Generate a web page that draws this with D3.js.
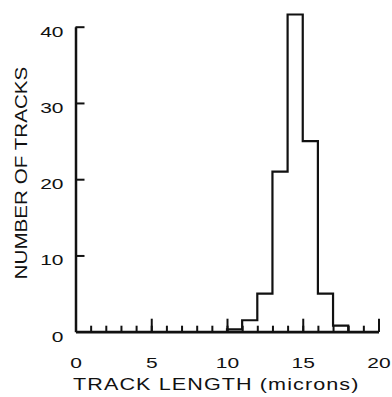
<!DOCTYPE html>
<html>
<head>
<meta charset="utf-8">
<script src="https://cdn.jsdelivr.net/npm/d3@7"></script>
<style>
  body { margin: 0; background: #fff; }
  text { font-family: "Liberation Sans", Arial, sans-serif; fill: #111; }
</style>
</head>
<body>
<div id="chart"></div>
<script>
// histogram bins (microns) and counts
const binStarts = [10, 11, 12, 13, 14, 15, 16, 17];
const binCounts = [0.3, 1.5, 5, 21, 41.6, 25, 5, 0.8];
const yTicks = [0, 10, 20, 30, 40];
const xMajorTicks = [0, 5, 10, 15, 20];
const xMinorTicks = d3.range(0, 21);

const WIDTH = 392;
const HEIGHT = 397;
const INK = '#111';
const STRETCH = 1.4; // the figure's lettering is wide

const svg = d3.select('#chart').append('svg')
    .attr('width', WIDTH)
    .attr('height', HEIGHT);

const x = d3.scaleLinear().domain([0, 20]).range([75.5, 378.5]);
const y = d3.scaleLinear().domain([0, 40]).range([331.7, 26.7]);

// y axis, ticks pointing inward
const yAxis = svg.append('g')
    .attr('transform', `translate(${x(0)},0)`)
    .call(d3.axisLeft(y).tickValues(yTicks).tickSize(-9).tickSizeOuter(0).tickPadding(12));
yAxis.select('.domain').attr('stroke', INK).attr('stroke-width', 2.5);
yAxis.selectAll('.tick line').attr('stroke', INK).attr('stroke-width', 2)
    .filter(d => d === 0).remove();
yAxis.selectAll('.tick text')
    .attr('font-size', 15)
    .attr('x', -12 / STRETCH)
    .attr('dy', '0.62em')
    .attr('transform', `scale(${STRETCH},1)`);

// x axis: minor ticks every micron, longer ticks every 5
const xMinor = svg.append('g')
    .attr('transform', `translate(0,${y(0)})`)
    .call(d3.axisBottom(x).tickValues(xMinorTicks).tickSize(-6).tickSizeOuter(0).tickFormat(''));
xMinor.select('.domain').attr('stroke', INK).attr('stroke-width', 2.7);
xMinor.selectAll('.tick line').attr('stroke', INK).attr('stroke-width', 2);

const xMajor = svg.append('g')
    .attr('transform', `translate(0,${y(0)})`)
    .call(d3.axisBottom(x).tickValues(xMajorTicks).tickSize(-13).tickSizeOuter(0).tickPadding(0));
xMajor.select('.domain').remove();
xMajor.selectAll('.tick line').attr('stroke', INK).attr('stroke-width', 2)
    .filter(d => d === 0).remove();
xMajor.selectAll('.tick text')
    .attr('font-size', 15)
    .attr('y', 36)
    .attr('dy', 0)
    .attr('transform', `scale(${STRETCH},1)`);

// histogram as a stepped outline
const steps = binStarts.map((b, i) => ({ x: b, v: binCounts[i] }));
steps.unshift({ x: binStarts[0], v: 0 });
steps.push({ x: binStarts[binStarts.length - 1] + 1, v: binCounts[binCounts.length - 1] });
steps.push({ x: binStarts[binStarts.length - 1] + 1, v: 0 });

svg.append('path')
    .datum(steps)
    .attr('fill', 'none')
    .attr('stroke', INK)
    .attr('stroke-width', 2.2)
    .attr('d', d3.line().x(d => x(d.x)).y(d => y(d.v)).curve(d3.curveStepAfter));

// axis titles
svg.append('text')
    .attr('transform', 'translate(73,390) scale(1.35,1)')
    .attr('font-size', 16)
    .attr('letter-spacing', 0.8)
    .text('TRACK LENGTH (microns)');

svg.append('text')
    .attr('transform', 'translate(26.7,173) rotate(-90) scale(1.29,1)')
    .attr('text-anchor', 'middle')
    .attr('font-size', 16)
    .text('NUMBER OF TRACKS');
</script>
</body>
</html>
